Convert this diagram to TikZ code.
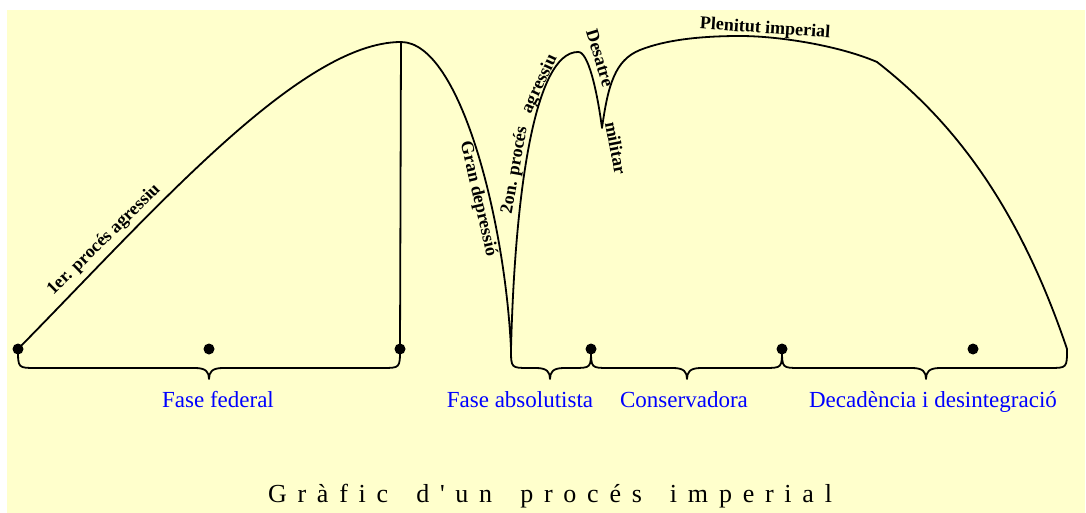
\documentclass[tikz,border=0pt]{standalone}
\usepackage{fontspec}
\setmainfont{Liberation Serif}
\definecolor{bgyellow}{HTML}{FFFFCC}
\definecolor{phaseblue}{HTML}{0000FF}
\newcommand{\phbrace}[5]{%
  \draw[bracepath] (#1) .. controls (#2,368) .. ({#2+18},368) -- ({#3-14},368)
    .. controls ({#3-3},368) and (#3,372) .. (#3,379)
    .. controls (#3,372) and ({#3+3},368) .. ({#3+14},368) -- ({#4-18},368)
    .. controls (#4,368) .. (#5);}
\begin{document}
\begin{tikzpicture}[x=1pt,y=-1pt,
  curvepath/.style={line width=1.8pt, black, line join=round},
  bracepath/.style={line width=1.8pt, black, line join=round},
  dotnode/.style={circle, fill=black, inner sep=0pt, minimum size=11pt},
  phase/.style={text=phaseblue, font=\fontsize{23}{27}\selectfont, anchor=base, inner sep=0pt},
  curvelabel/.style={font=\fontsize{18}{21}\selectfont\bfseries, inner sep=0pt},
  titlenode/.style={font=\fontsize{26}{30}\selectfont, anchor=base, inner sep=0pt}]
\useasboundingbox (0,0) rectangle (1086,513);
\fill[white] (0,0) rectangle (1086,513);
\fill[bgyellow] (7,10) rectangle (1085,513);

% dots
\node[dotnode] (d1) at (18,349) {};
\node[dotnode] (d2) at (209,349) {};
\node[dotnode] (d3) at (400,349) {};
\node[dotnode] (d4) at (591,349) {};
\node[dotnode] (d5) at (782,349) {};
\node[dotnode] (d6) at (973,349) {};

% key points of the curve
\coordinate (peak1) at (401,42);
\coordinate (tr1) at (511,349);
\coordinate (peak2) at (578,52);
\coordinate (tr2) at (602,128);
\coordinate (top1) at (640,50);
\coordinate (top2) at (740,36);
\coordinate (top3) at (877,62);
\coordinate (endp) at (1067,349);

\draw[curvepath] (d1.center) .. controls (150,215) and (300,42) .. (peak1)
  .. controls (460,42) and (505,220) .. (tr1)
  .. controls (515,190) and (535,52) .. (peak2)
  .. controls (588,51) and (597,90) .. (tr2)
  .. controls (608,85) and (615,60) .. (top1)
  .. controls (665,40) and (700,36) .. (top2)
  .. controls (780,36) and (840,46) .. (top3)
  .. controls (945,115) and (1015,195) .. (endp);
\draw[curvepath] (peak1) -- (d3.center);

% braces
\phbrace{d1.center}{18}{209}{400}{d3.center}
\phbrace{tr1}{511}{550}{591}{d4.center}
\phbrace{d4.center}{591}{687}{782}{d5.center}
\phbrace{d5.center}{782}{926}{1067}{endp}

% phase labels
\node[phase] (l1) at (218,407) {Fase federal};
\node[phase] (l2) at (520,407) {Fase absolutista};
\node[phase] (l3) at (684,407) {Conservadora};
\node[phase] (l4) at (933,407) {Decadència i desintegració};

% curve labels
\node[curvelabel, rotate=44.5] (c1) at (104,240) {1er. procés agressiu};
\node[curvelabel, rotate=-77] (c2) at (478,199) {Gran depressió};
\node[curvelabel, rotate=80] (c3a) at (515,170) {2on. procés};
\node[curvelabel, rotate=65] (c3b) at (540,84) {agressiu};
\node[curvelabel, rotate=-73] (c4) at (600,58) {Desatre};
\node[curvelabel, rotate=-79] (c5) at (616,148) {militar};
\node[curvelabel, rotate=-4] (c6) at (765,29) {Plenitut imperial};

% title
\node[titlenode] (title) at (550,502) {\makebox[564pt][s]{G\hfill r\hfill à\hfill f\hfill i\hfill c\hfill\ \hfill d\hfill \textquotesingle\hfill u\hfill n\hfill\ \hfill p\hfill r\hfill o\hfill c\hfill é\hfill s\hfill\ \hfill i\hfill m\hfill p\hfill e\hfill r\hfill i\hfill a\hfill l}};
\end{tikzpicture}
\end{document}
